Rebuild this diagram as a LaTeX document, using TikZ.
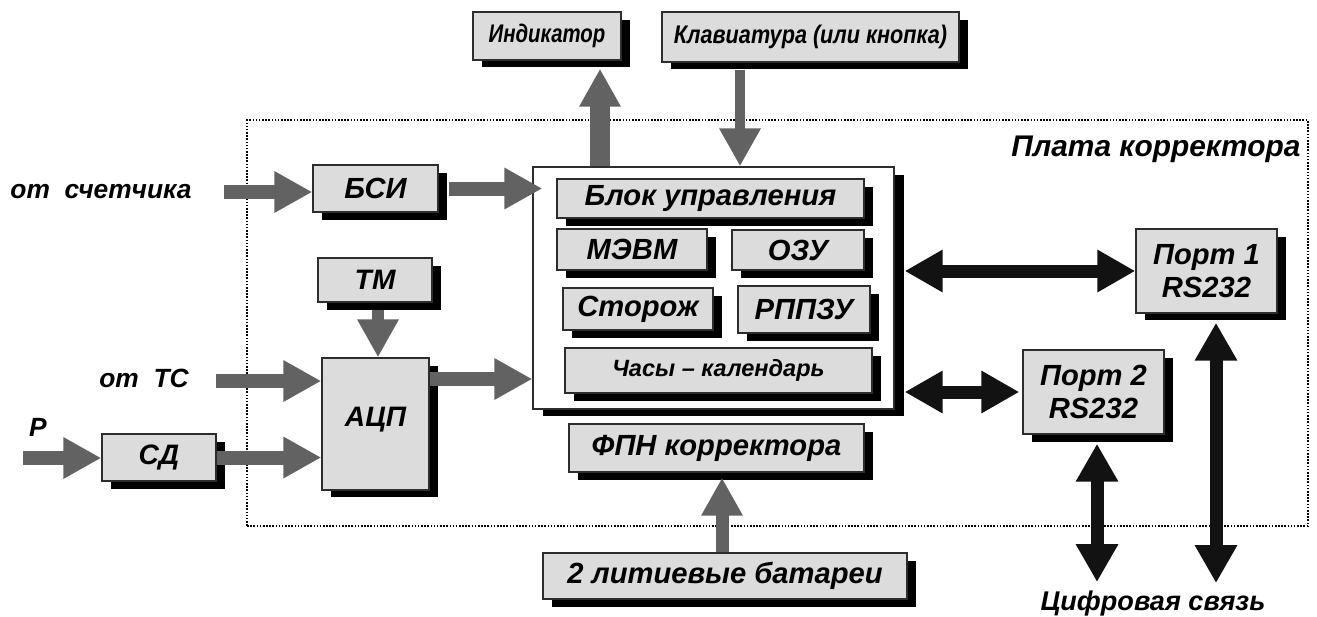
\documentclass[tikz,border=0pt]{standalone}
\usepackage{fontspec}
\setmainfont{Liberation Sans}
\usepackage{graphicx}
\usetikzlibrary{arrows.meta, positioning, shadows, calc}

\definecolor{boxgray}{RGB}{220,220,220}
\definecolor{arrowgray}{RGB}{98,98,98}
\definecolor{edgegray}{RGB}{45,45,45}

\newcommand{\narrow}[2][0.8]{\scalebox{#1}[1]{#2}}

\begin{document}
\begin{tikzpicture}[x=0.02cm, y=-0.02cm,
        block/.style={rectangle, draw=edgegray, line width=0.8pt, fill=boxgray, inner sep=0pt, align=center,
            general shadow={fill=black, shadow xshift=0.18cm, shadow yshift=-0.15cm},
            font=\bfseries\itshape\fontsize{16.6}{18.5}\selectfont},
        mainbox/.style={rectangle, draw=edgegray, line width=0.8pt, fill=white, inner sep=0pt,
            general shadow={fill=black, shadow xshift=0.2cm, shadow yshift=-0.15cm}},
        board/.style={rectangle, draw=black, line width=0.9pt, dash pattern=on 0.9pt off 0.9pt, inner sep=0pt},
        lbl/.style={inner sep=0pt, font=\bfseries\itshape\fontsize{15}{18}\selectfont},
        bigtxt/.style={font=\bfseries\itshape\fontsize{16}{19}\selectfont},
        narrowtxt/.style={font=\bfseries\itshape\fontsize{14.5}{17}\selectfont},
        grayarrow/.style={-{Triangle[length=0.76cm, width=0.78cm]}, line width=0.28cm, draw=arrowgray, fill=arrowgray},
        blackarrow/.style={{Triangle[length=0.76cm, width=0.8cm]}-{Triangle[length=0.76cm, width=0.8cm]}, line width=0.26cm, draw=black!93, fill=black!93}
    ]
    \useasboundingbox (0,0) rectangle (1317,616);

    % Board outline
    \node[board, minimum width=21.22cm, minimum height=8.12cm] (board) at (777.5,323) {};
    \node[lbl, anchor=north east, font=\bfseries\itshape\fontsize{17}{20}\selectfont] (boardname) at ([xshift=-0.16cm, yshift=-0.32cm]board.north east) {Плата корректора};

    % Peripherals on top
    \node[block, narrowtxt, minimum width=2.96cm, minimum height=0.96cm] (ind) at (547,36) {\narrow{Индикатор}};
    \node[block, narrowtxt, minimum width=5.94cm, minimum height=1.0cm] (kbd) at (810.5,37) {\narrow[0.85]{Клавиатура (или кнопка)}};

    % Inputs
    \node[lbl] (otsch) at (101,192) {от~~счетчика};
    \node[lbl] (otts) at (144,378) {от~~ТС};
    \node[lbl] (plbl) at (38,427) {Р};
    \coordinate (pin) at (23,458);

    \node[block, minimum width=2.5cm, minimum height=0.94cm] (bsi) at (375.5,188.5) {БСИ};
    \node[block, bigtxt, minimum width=2.28cm, minimum height=0.88cm] (tm) at (375,280) {ТМ};
    \node[block, bigtxt, minimum width=2.14cm, minimum height=2.64cm] (adc) at (375.5,424) {\raisebox{0.28cm}{АЦП}};
    \node[block, bigtxt, minimum width=2.28cm, minimum height=0.94cm] (sd) at (159,457.5) {СД};

    % Main unit
    \node[mainbox, minimum width=7.22cm, minimum height=4.84cm] (main) at (713.5,288) {};
    \node[block, minimum width=6.14cm, minimum height=0.78cm] (bu) at (710.5,198.5) {Блок управления};
    \node[block, minimum width=3.0cm, minimum height=0.82cm] (mevm) at (632,249.5) {МЭВМ};
    \node[block, minimum width=2.64cm, minimum height=0.8cm] (ozu) at (798,250) {ОЗУ};
    \node[block, minimum width=3.0cm, minimum height=0.84cm] (stor) at (638,309) {Сторож};
    \node[block, minimum width=2.64cm, minimum height=0.94cm] (rppzu) at (804,309.5) {РППЗУ};
    \node[block, minimum width=6.14cm, minimum height=0.9cm, font=\bfseries\itshape\fontsize{13.4}{16}\selectfont] (clock) at (718.5,370.5) {Часы -- календарь};

    % Power
    \node[block, minimum width=5.9cm, minimum height=0.96cm] (fpn) at (716.5,448) {ФПН корректора};
    \node[block, minimum width=7.28cm, minimum height=0.92cm] (bat) at (725,576) {2 литиевые батареи};

    % Ports
    \node[block, minimum width=2.82cm, minimum height=1.68cm] (port1) at (1206.5,271) {Порт 1\\RS232};
    \node[block, minimum width=2.82cm, minimum height=1.68cm] (port2) at (1093.5,392) {Порт 2\\RS232};
    \node[lbl, font=\bfseries\itshape\fontsize{15.4}{18}\selectfont] (dig) at (1153,603) {Цифровая связь};

    % Gray signal arrows
    \draw[grayarrow, shorten <=0.64cm] (otsch.east) -- (otsch.east -| bsi.west);
    \draw[grayarrow] ([xshift=0.2cm]bsi.east) -- ([xshift=0.2cm]bsi.east -| main.west);
    \coordinate (tmout) at ([xshift=0.06cm, yshift=-0.14cm]tm.south);
    \draw[grayarrow, line width=0.24cm] (tmout) -- (tmout |- adc.north);
    \draw[grayarrow, shorten <=0.54cm] ([yshift=-0.06cm]otts.east) -- ([yshift=-0.06cm]otts.east -| adc.west);
    \draw[grayarrow] (pin) -- (pin -| sd.west);
    \draw[grayarrow] (sd.east) -- (sd.east -| adc.west);
    \coordinate (adcout) at ([yshift=0.9cm]adc.east);
    \draw[grayarrow] (adcout) -- (adcout -| main.west);
    \coordinate (indin) at ([xshift=1.06cm, yshift=-0.16cm]ind.south);
    \draw[grayarrow, line width=0.4cm] (indin |- main.north) -- (indin);
    \coordinate (kbdout) at ([xshift=-1.41cm, yshift=-0.14cm]kbd.south);
    \draw[grayarrow, line width=0.2cm] (kbdout) -- (kbdout |- main.north);
    \coordinate (fpnin) at ([yshift=-0.1cm]fpn.south);
    \draw[grayarrow, line width=0.26cm] ([xshift=-0.06cm]bat.north) -- ([xshift=-0.06cm]bat.north |- fpnin);

    % Black data links
    \coordinate (mainr) at ([xshift=0.2cm]main.east);
    \draw[blackarrow] (mainr |- port1.west) -- (port1.west);
    \draw[blackarrow] (mainr |- port2.west) -- ([xshift=-0.06cm]port2.west);
    \coordinate (p2out) at ([xshift=0.07cm, yshift=-0.18cm]port2.south);
    \draw[blackarrow, shorten >=0.16cm] (p2out) -- (p2out |- dig.north);
    \coordinate (p1out) at ([xshift=0.19cm, yshift=-0.18cm]port1.south);
    \draw[blackarrow, shorten >=0.14cm] (p1out) -- (p1out |- dig.north);

\end{tikzpicture}
\end{document}
